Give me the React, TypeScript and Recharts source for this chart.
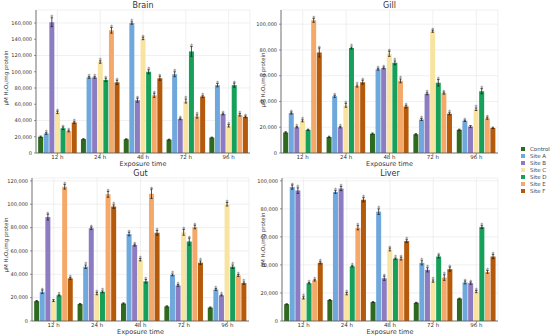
import React from "react";
import { BarChart, Bar, XAxis, YAxis, CartesianGrid, ErrorBar, LabelList } from "recharts";

const TIMES = ["12 h", "24 h", "48 h", "72 h", "96 h"];
const SERIES = ["Control", "Site A", "Site B", "Site C", "Site D", "Site E", "Site F"];
const KEYS = ["control", "siteA", "siteB", "siteC", "siteD", "siteE", "siteF"];
const COLORS = ["#2f6b1f", "#6fa8dc", "#8e7cc3", "#f8e3a0", "#17a05a", "#f4a96a", "#b45a0a"];

// one row per series (Control, Site A..F), one value per exposure time
const BRAIN = [
  [20000, 17000, 17000, 16500, 19000],
  [24000, 93000, 160000, 97000, 83500],
  [161000, 93000, 65000, 42000, 48000],
  [50000, 112000, 141000, 64000, 33500],
  [30500, 90000, 100000, 125000, 83500],
  [27000, 151000, 71000, 45000, 47000],
  [37500, 87000, 92000, 69500, 44500],
];
const BRAIN_ERR = [
  [800, 600, 500, 500, 500],
  [1000, 1000, 1500, 3000, 2000],
  [5500, 1000, 2500, 1000, 1000],
  [1500, 1500, 1500, 2500, 1500],
  [1500, 2000, 2500, 6000, 2500],
  [1000, 3500, 2500, 2000, 1500],
  [1000, 2500, 2500, 1000, 1000],
];

const GILL = [
  [16000, 12500, 15000, 14500, 18000],
  [31000, 44000, 65000, 26000, 25000],
  [20000, 20000, 66000, 46000, 20500],
  [25000, 37000, 77000, 94500, 34000],
  [18000, 81500, 70000, 54500, 48000],
  [103000, 52000, 56000, 46500, 27000],
  [78000, 55000, 36000, 30500, 19500],
];
const GILL_ERR = [
  [500, 500, 500, 500, 500],
  [800, 800, 700, 800, 500],
  [500, 500, 700, 800, 800],
  [800, 1500, 2000, 800, 1000],
  [500, 800, 1500, 2500, 2000],
  [1500, 800, 1500, 800, 800],
  [3500, 1500, 1000, 800, 500],
];

const GUT = [
  [17000, 14500, 15000, 12500, 11500],
  [25000, 46500, 74500, 39500, 27000],
  [89000, 79500, 65000, 30500, 22000],
  [17500, 23500, 52500, 76000, 100000],
  [22000, 25000, 34000, 68000, 46500],
  [115000, 108500, 109000, 80500, 39000],
  [36500, 98000, 75500, 50000, 32500],
];
const GUT_ERR = [
  [500, 500, 500, 500, 500],
  [1500, 1500, 1500, 800, 800],
  [2500, 1000, 800, 800, 500],
  [800, 1000, 1000, 2500, 1500],
  [500, 800, 1500, 3000, 1500],
  [2000, 2500, 4000, 1500, 800],
  [800, 1500, 2000, 1500, 1000],
];

const LIVER = [
  [12000, 15000, 13500, 13000, 16000],
  [95500, 92000, 78000, 41500, 27500],
  [93000, 94500, 30500, 36500, 27000],
  [16500, 19500, 51000, 28500, 21000],
  [27000, 39000, 44500, 46000, 67000],
  [29000, 66500, 44500, 31000, 35000],
  [41500, 86500, 57000, 37000, 46000],
];
const LIVER_ERR = [
  [300, 300, 300, 300, 300],
  [1500, 1000, 2000, 1500, 1000],
  [2000, 1500, 1500, 1500, 800],
  [800, 800, 1000, 800, 800],
  [500, 500, 500, 1000, 1000],
  [500, 1500, 1000, 2000, 1000],
  [800, 1500, 1000, 1500, 1500],
];

// bars without an asterisk, "series-time"
const GILL_NS = ["4-0", "2-4", "6-4"];
const GUT_NS = ["3-0"];

const BRAIN_TICKS = [0, 20000, 40000, 60000, 80000, 100000, 120000, 140000, 160000];
const GILL_TICKS = [0, 20000, 40000, 60000, 80000, 100000];
const GUT_TICKS = [0, 20000, 40000, 60000, 80000, 100000, 120000];
const LIVER_TICKS = [0, 20000, 40000, 60000, 80000, 100000];

const FONT = "'DejaVu Sans', sans-serif";
const YLABEL = "μM H₂O₂/mg protein";

interface PanelProps {
  title: string;
  values: number[][];
  errors: number[][];
  ticks: number[];
  yMax: number;
  left: number;
  top: number;
  width: number;
  height: number;
  marginTop: number;
  yWidth: number;
  ns?: string[];
}

function Panel({ title, values, errors, ticks, yMax, left, top, width, height, marginTop, yWidth, ns = [] }: PanelProps) {
  const data = TIMES.map((t, i) => {
    const row: Record<string, string | number> = { time: t };
    KEYS.forEach((k, s) => {
      row[k] = values[s][i];
      row[k + "Err"] = errors[s][i];
    });
    return row;
  });

  const star = (s: number) => (p: any) => {
    const { x, y, width: w, height: h, index } = p;
    if (ns.includes(`${s}-${index}`)) return null;
    const errPx = (errors[s][index] * h) / values[s][index];
    return (
      <text x={x + w / 2} y={y - errPx + 1.5} textAnchor="middle" fontSize={6} fill="#555" fontFamily={FONT}>
        *
      </text>
    );
  };

  const plotLeft = left + yWidth;
  const plotRight = left + width - 5;
  const plotBottom = top + height - 17;

  return (
    <>
      <div
        style={{
          position: "absolute", left: plotLeft, width: plotRight - plotLeft, top: top + marginTop - 9,
          textAlign: "center", fontSize: 8, color: "#333", fontFamily: FONT, lineHeight: "9px",
        }}
      >
        {title}
      </div>
      <div style={{ position: "absolute", left, top }}>
        <BarChart
          width={width}
          height={height}
          data={data}
          margin={{ top: marginTop, right: 5, left: 0, bottom: 0 }}
          barCategoryGap="5%"
          barGap={0.6}
          style={{ overflow: "visible" }}
        >
          <CartesianGrid stroke="#e6e6e6" strokeWidth={0.6} vertical horizontal />
          <XAxis
            dataKey="time"
            height={17}
            tick={{ fontSize: 5.5, fill: "#333", fontFamily: FONT }}
            tickSize={2}
            tickMargin={0}
            tickLine={{ stroke: "#555", strokeWidth: 0.6 }}
            axisLine={{ stroke: "#555", strokeWidth: 0.8 }}
            interval={0}
          />
          <YAxis
            width={yWidth}
            domain={[0, yMax]}
            ticks={ticks}
            tickFormatter={(v: number) => v.toLocaleString("en-US")}
            tick={{ fontSize: 5, fill: "#333", fontFamily: FONT }}
            tickSize={2}
            tickLine={{ stroke: "#555", strokeWidth: 0.6 }}
            axisLine={{ stroke: "#555", strokeWidth: 0.8 }}
            allowDataOverflow
          />
          {KEYS.map((k, s) => (
            <Bar key={k} dataKey={k} name={SERIES[s]} fill={COLORS[s]} isAnimationActive={false}>
              <ErrorBar dataKey={k + "Err"} width={1.2} strokeWidth={0.8} stroke="#222" direction="y" />
              {s > 0 && <LabelList dataKey={k} content={star(s)} />}
            </Bar>
          ))}
        </BarChart>
      </div>
      <div
        style={{
          position: "absolute", left: plotLeft, width: plotRight - plotLeft, top: plotBottom + 8,
          textAlign: "center", fontSize: 6.5, color: "#333", fontFamily: FONT, lineHeight: "6px",
        }}
      >
        Exposure time
      </div>
    </>
  );
}

function YLabel({ x, y }: { x: number; y: number }) {
  return (
    <div
      style={{
        position: "absolute", left: x - 40, top: y - 4, width: 80, textAlign: "center",
        transform: "rotate(-90deg)", fontSize: 5.5, color: "#333", fontFamily: FONT, lineHeight: "8px",
        whiteSpace: "nowrap",
      }}
    >
      {YLABEL}
    </div>
  );
}

export default function App() {
  return (
    <div style={{ position: "absolute", left: 0, top: 0, width: 550, height: 336, background: "#fff", overflow: "hidden" }}>
      <Panel title="Brain" values={BRAIN} errors={BRAIN_ERR} ticks={BRAIN_TICKS} yMax={176000}
        left={0} top={0} width={255} height={170} marginTop={10} yWidth={36} />
      <Panel title="Gill" values={GILL} errors={GILL_ERR} ticks={GILL_TICKS} yMax={111000}
        left={245} top={0} width={258} height={170} marginTop={10} yWidth={36} ns={GILL_NS} />
      <Panel title="Gut" values={GUT} errors={GUT_ERR} ticks={GUT_TICKS} yMax={122500}
        left={0} top={164} width={254} height={174} marginTop={14} yWidth={32} ns={GUT_NS} />
      <Panel title="Liver" values={LIVER} errors={LIVER_ERR} ticks={LIVER_TICKS} yMax={102000}
        left={246} top={164} width={257} height={174} marginTop={14} yWidth={36} />
      <YLabel x={6} y={78} />
      <YLabel x={263} y={80} />
      <YLabel x={6} y={245} />
      <YLabel x={263} y={240} />
      <div style={{ position: "absolute", left: 521, top: 145, fontFamily: FONT, fontSize: 5.5, color: "#444" }}>
        {SERIES.map((s, i) => (
          <div key={s} style={{ display: "flex", alignItems: "center", height: 7 }}>
            <span style={{ display: "inline-block", width: 4, height: 4, background: COLORS[i], marginRight: 5 }} />
            {s}
          </div>
        ))}
      </div>
    </div>
  );
}
